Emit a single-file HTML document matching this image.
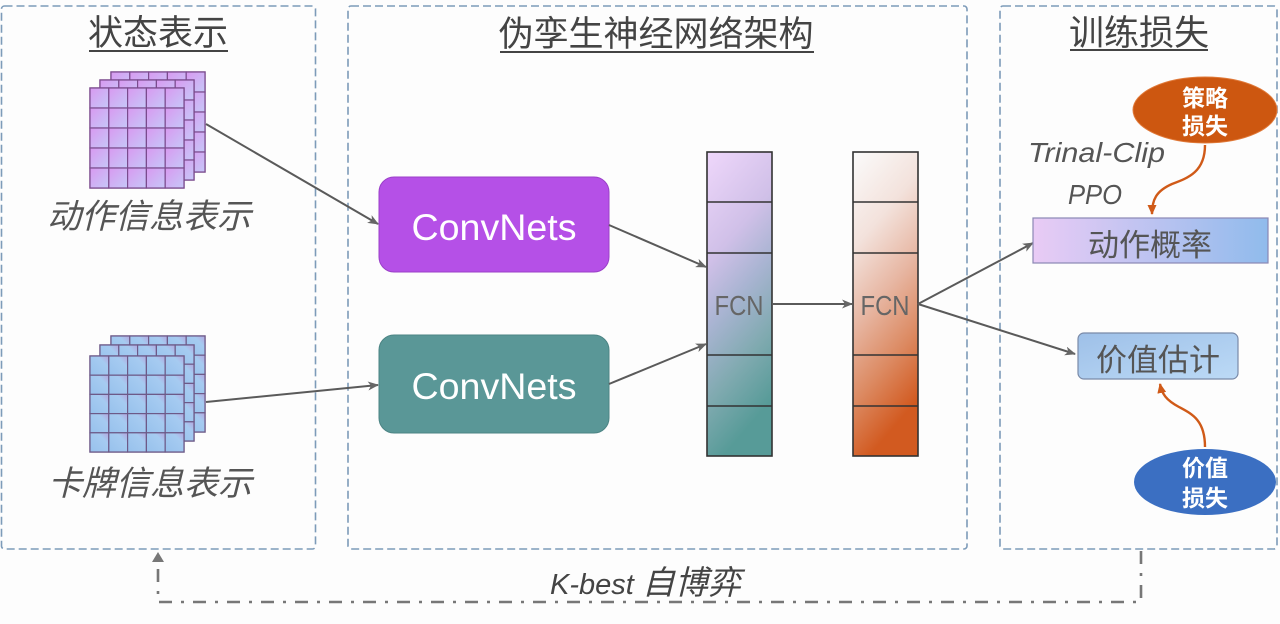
<!DOCTYPE html>
<html>
<head>
<meta charset="utf-8">
<style>
html,body{margin:0;padding:0;background:#fdfdfd;}
svg{display:block;}
text{font-family:"Liberation Sans","Noto Sans CJK SC",sans-serif;}
</style>
</head>
<body>
<svg width="1280" height="624" viewBox="0 0 1280 624" xmlns="http://www.w3.org/2000/svg">
<defs>
  <linearGradient id="cellP" x1="0" y1="0" x2="1" y2="1">
    <stop offset="0" stop-color="#d899f0"/>
    <stop offset="1" stop-color="#c6c8f8"/>
  </linearGradient>
  <linearGradient id="cellB" x1="0" y1="1" x2="1" y2="0">
    <stop offset="0" stop-color="#97c1ec"/>
    <stop offset="0.7" stop-color="#a6cbf1"/>
    <stop offset="1" stop-color="#b4a6de"/>
  </linearGradient>
  <linearGradient id="colL" x1="0" y1="0" x2="0.25" y2="1">
    <stop offset="0" stop-color="#efd7fb"/>
    <stop offset="0.35" stop-color="#d0c0e8"/>
    <stop offset="0.55" stop-color="#a9b4d2"/>
    <stop offset="0.78" stop-color="#80aab0"/>
    <stop offset="1" stop-color="#579b98"/>
  </linearGradient>
  <linearGradient id="colR" x1="0" y1="0" x2="0.25" y2="1">
    <stop offset="0" stop-color="#fbfbfb"/>
    <stop offset="0.3" stop-color="#f3e2dc"/>
    <stop offset="0.55" stop-color="#e7b6a2"/>
    <stop offset="0.78" stop-color="#dc8a62"/>
    <stop offset="1" stop-color="#d25a20"/>
  </linearGradient>
  <linearGradient id="actG" x1="0" y1="0" x2="1" y2="0">
    <stop offset="0" stop-color="#e9cbf5"/>
    <stop offset="1" stop-color="#90bbec"/>
  </linearGradient>
  <linearGradient id="valG" x1="0" y1="0" x2="1" y2="1">
    <stop offset="0" stop-color="#9ec0e8"/>
    <stop offset="1" stop-color="#bcdaf6"/>
  </linearGradient>
  <marker id="ah" markerUnits="userSpaceOnUse" markerWidth="11" markerHeight="9" refX="10" refY="4.5" orient="auto">
    <path d="M0,0 L11,4.5 L0,9 L3,4.5 z" fill="#666"/>
  </marker>
  <marker id="ahO" markerUnits="userSpaceOnUse" markerWidth="10" markerHeight="9" refX="9" refY="4.5" orient="auto">
    <path d="M0,0 L10,4.5 L0,9 z" fill="#d05a18"/>
  </marker>
  <marker id="ahG" markerUnits="userSpaceOnUse" markerWidth="10" markerHeight="10" refX="8" refY="5" orient="auto">
    <path d="M0,0 L10,5 L0,10 z" fill="#666"/>
  </marker>

  <g id="gridP">
    <rect x="0" y="0" width="94" height="100" fill="url(#cellP)" stroke="#7b4b8e" stroke-width="1.4"/>
    <g fill="url(#cellP)" stroke="#7b4b8e" stroke-width="1.2">
      <rect x="0" y="0" width="18.8" height="20"/><rect x="18.8" y="0" width="18.8" height="20"/><rect x="37.6" y="0" width="18.8" height="20"/><rect x="56.4" y="0" width="18.8" height="20"/><rect x="75.2" y="0" width="18.8" height="20"/>
      <rect x="0" y="20" width="18.8" height="20"/><rect x="18.8" y="20" width="18.8" height="20"/><rect x="37.6" y="20" width="18.8" height="20"/><rect x="56.4" y="20" width="18.8" height="20"/><rect x="75.2" y="20" width="18.8" height="20"/>
      <rect x="0" y="40" width="18.8" height="20"/><rect x="18.8" y="40" width="18.8" height="20"/><rect x="37.6" y="40" width="18.8" height="20"/><rect x="56.4" y="40" width="18.8" height="20"/><rect x="75.2" y="40" width="18.8" height="20"/>
      <rect x="0" y="60" width="18.8" height="20"/><rect x="18.8" y="60" width="18.8" height="20"/><rect x="37.6" y="60" width="18.8" height="20"/><rect x="56.4" y="60" width="18.8" height="20"/><rect x="75.2" y="60" width="18.8" height="20"/>
      <rect x="0" y="80" width="18.8" height="20"/><rect x="18.8" y="80" width="18.8" height="20"/><rect x="37.6" y="80" width="18.8" height="20"/><rect x="56.4" y="80" width="18.8" height="20"/><rect x="75.2" y="80" width="18.8" height="20"/>
    </g>
  </g>
  <g id="gridB">
    <rect x="0" y="0" width="94" height="96" fill="url(#cellB)" stroke="#6d5a88" stroke-width="1.4"/>
    <g fill="url(#cellB)" stroke="#6d5a88" stroke-width="1.2">
      <rect x="0" y="0" width="18.8" height="19.2"/><rect x="18.8" y="0" width="18.8" height="19.2"/><rect x="37.6" y="0" width="18.8" height="19.2"/><rect x="56.4" y="0" width="18.8" height="19.2"/><rect x="75.2" y="0" width="18.8" height="19.2"/>
      <rect x="0" y="19.2" width="18.8" height="19.2"/><rect x="18.8" y="19.2" width="18.8" height="19.2"/><rect x="37.6" y="19.2" width="18.8" height="19.2"/><rect x="56.4" y="19.2" width="18.8" height="19.2"/><rect x="75.2" y="19.2" width="18.8" height="19.2"/>
      <rect x="0" y="38.4" width="18.8" height="19.2"/><rect x="18.8" y="38.4" width="18.8" height="19.2"/><rect x="37.6" y="38.4" width="18.8" height="19.2"/><rect x="56.4" y="38.4" width="18.8" height="19.2"/><rect x="75.2" y="38.4" width="18.8" height="19.2"/>
      <rect x="0" y="57.6" width="18.8" height="19.2"/><rect x="18.8" y="57.6" width="18.8" height="19.2"/><rect x="37.6" y="57.6" width="18.8" height="19.2"/><rect x="56.4" y="57.6" width="18.8" height="19.2"/><rect x="75.2" y="57.6" width="18.8" height="19.2"/>
      <rect x="0" y="76.8" width="18.8" height="19.2"/><rect x="18.8" y="76.8" width="18.8" height="19.2"/><rect x="37.6" y="76.8" width="18.8" height="19.2"/><rect x="56.4" y="76.8" width="18.8" height="19.2"/><rect x="75.2" y="76.8" width="18.8" height="19.2"/>
    </g>
  </g>
</defs>

<rect x="0" y="0" width="1280" height="624" fill="#fdfdfd"/>

<!-- Panels -->
<g fill="none" stroke="#7d9bb9" stroke-width="1.6" stroke-dasharray="8 4">
  <rect x="1.5" y="6" width="314" height="543" rx="3"/>
  <rect x="348" y="6" width="619" height="543" rx="3"/>
  <rect x="1000" y="6" width="277" height="543" rx="3"/>
</g>

<!-- Titles -->
<g fill="#444" font-size="35" text-anchor="middle">
  <text x="158" y="45">状态表示</text>
  <text x="656" y="46">伪孪生神经网络架构</text>
  <text x="1139" y="45">训练损失</text>
</g>
<g stroke="#444" stroke-width="2">
  <line x1="89" y1="51" x2="228" y2="51"/>
  <line x1="500" y1="52" x2="814" y2="52"/>
  <line x1="1070" y1="50" x2="1208" y2="50"/>
</g>

<!-- Grids -->
<use href="#gridP" x="111" y="72"/>
<use href="#gridP" x="100" y="80"/>
<use href="#gridP" x="90" y="88"/>

<use href="#gridB" x="111" y="336"/>
<use href="#gridB" x="100" y="345"/>
<use href="#gridB" x="90" y="356"/>

<g fill="#555" font-size="34" font-style="italic" text-anchor="middle">
  <text x="149" y="228">动作信息表示</text>
  <text x="150" y="495">卡牌信息表示</text>
</g>

<!-- ConvNets -->
<rect x="379" y="177" width="230" height="95" rx="15" fill="#b550e7" stroke="#9a40c8" stroke-width="1"/>
<rect x="379" y="335" width="230" height="98" rx="15" fill="#5a9797" stroke="#4c8484" stroke-width="1"/>
<g fill="#fff" font-size="37" text-anchor="middle">
  <text x="494" y="240" textLength="165" lengthAdjust="spacingAndGlyphs">ConvNets</text>
  <text x="494" y="399" textLength="165" lengthAdjust="spacingAndGlyphs">ConvNets</text>
</g>

<!-- FCN columns -->
<rect x="707" y="152" width="65" height="304" fill="url(#colL)" stroke="#333" stroke-width="1.6"/>
<rect x="853" y="152" width="65" height="304" fill="url(#colR)" stroke="#333" stroke-width="1.6"/>
<g stroke="#333" stroke-width="1.6">
  <line x1="707" y1="202" x2="772" y2="202"/>
  <line x1="707" y1="253" x2="772" y2="253"/>
  <line x1="707" y1="355" x2="772" y2="355"/>
  <line x1="707" y1="406" x2="772" y2="406"/>
  <line x1="853" y1="202" x2="918" y2="202"/>
  <line x1="853" y1="253" x2="918" y2="253"/>
  <line x1="853" y1="355" x2="918" y2="355"/>
  <line x1="853" y1="406" x2="918" y2="406"/>
</g>
<g fill="#666" font-size="28" text-anchor="middle">
  <text x="739" y="315" textLength="49" lengthAdjust="spacingAndGlyphs">FCN</text>
  <text x="885" y="315" textLength="49" lengthAdjust="spacingAndGlyphs">FCN</text>
</g>

<!-- Connectors -->
<g stroke="#5a5a5a" stroke-width="2" fill="none">
  <line x1="206" y1="124" x2="378" y2="224" marker-end="url(#ah)"/>
  <line x1="206" y1="402" x2="378" y2="385" marker-end="url(#ah)"/>
  <line x1="609" y1="225" x2="706" y2="267" marker-end="url(#ah)"/>
  <line x1="609" y1="384" x2="706" y2="344" marker-end="url(#ah)"/>
  <line x1="772" y1="304" x2="852" y2="304" marker-end="url(#ah)"/>
  <line x1="918" y1="304" x2="1033" y2="243" marker-end="url(#ah)"/>
  <line x1="918" y1="304" x2="1075" y2="354" marker-end="url(#ah)"/>
</g>

<!-- Right panel -->
<ellipse cx="1205" cy="110" rx="72" ry="33" fill="#cd5710" stroke="#e07a3a" stroke-width="1"/>
<g fill="#fff" font-size="23" font-weight="bold" text-anchor="middle">
  <text x="1205" y="106">策略</text>
  <text x="1205" y="134">损失</text>
</g>

<g fill="#555" font-size="28" font-style="italic">
  <text x="1028" y="162" textLength="137" lengthAdjust="spacingAndGlyphs">Trinal-Clip</text>
  <text x="1068" y="204" textLength="54" lengthAdjust="spacingAndGlyphs">PPO</text>
</g>

<rect x="1033" y="218" width="235" height="45" fill="url(#actG)" stroke="#8a88b4" stroke-width="1.2"/>
<text x="1150" y="256" fill="#555" font-size="31" text-anchor="middle">动作概率</text>

<rect x="1078" y="333" width="160" height="46" rx="6" fill="url(#valG)" stroke="#7a8aa8" stroke-width="1.2"/>
<text x="1158" y="371" fill="#555" font-size="31" text-anchor="middle">价值估计</text>

<ellipse cx="1205" cy="482" rx="71" ry="33" fill="#3b6fc2"/>
<g fill="#fff" font-size="23" font-weight="bold" text-anchor="middle">
  <text x="1205" y="476">价值</text>
  <text x="1205" y="506">损失</text>
</g>

<g stroke="#d05a18" stroke-width="2.4" fill="none">
  <path d="M1205,145 C1205,172 1188,178 1172,184 C1156,191 1152,200 1152,214" marker-end="url(#ahO)"/>
  <path d="M1205,447 C1205,420 1192,414 1179,407 C1166,400 1162,394 1160,384" marker-end="url(#ahO)"/>
</g>

<!-- Self-play loop -->
<path d="M1141,551 L1141,602 L158,602 L158,560" fill="none" stroke="#777" stroke-width="2.6" stroke-dasharray="13 9 3 9"/>
<path d="M152,562 L158,552 L164,562 z" fill="#777"/>
<text x="550" y="594" fill="#444" font-style="italic"><tspan font-size="29">K-best </tspan><tspan font-size="33">自博弈</tspan></text>
</svg>
</body>
</html>
